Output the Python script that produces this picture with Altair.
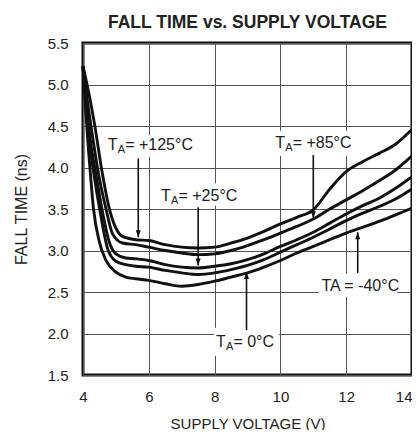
import altair as alt
import pandas as pd

# ---- data ----
X1 = [4.0, 4.2, 4.36, 4.57, 4.81, 5.0, 5.2, 5.6, 6.0, 6.5, 7.0, 7.5, 8.0, 8.5, 9.0, 9.5, 10.0, 10.5, 11.0, 11.5, 12.0, 12.5, 13.0, 13.5, 14.0]
Y1 = [5.22, 4.85, 4.5, 3.97, 3.49, 3.27, 3.17, 3.13, 3.12, 3.07, 3.04, 3.03, 3.04, 3.09, 3.15, 3.23, 3.32, 3.40, 3.49, 3.74, 3.95, 4.07, 4.17, 4.28, 4.46]

X2 = [4.0, 4.15, 4.3, 4.45, 4.7, 4.9, 5.2, 5.6, 6.0, 6.5, 7.0, 7.5, 8.0, 8.5, 9.0, 9.5, 10.0, 10.5, 11.0, 11.5, 12.0, 12.5, 13.0, 13.5, 14.0]
Y2 = [5.22, 4.75, 4.35, 3.97, 3.5, 3.2, 3.09, 3.07, 3.04, 3.0, 2.97, 2.95, 2.96, 3.0, 3.06, 3.13, 3.21, 3.29, 3.38, 3.5, 3.61, 3.72, 3.84, 3.97, 4.14]

X3 = [4.0, 4.12, 4.25, 4.38, 4.6, 4.8, 5.0, 5.3, 5.6, 6.0, 6.5, 7.0, 7.5, 8.0, 8.5, 9.0, 9.5, 10.0, 10.5, 11.0, 11.5, 12.0, 12.5, 13.0, 13.5, 14.0]
Y3 = [5.22, 4.7, 4.25, 3.95, 3.45, 3.1, 2.96, 2.91, 2.90, 2.88, 2.83, 2.80, 2.79, 2.81, 2.84, 2.89, 2.96, 3.05, 3.13, 3.22, 3.33, 3.44, 3.54, 3.63, 3.75, 3.89]

X4 = [4.0, 4.1, 4.2, 4.32, 4.55, 4.75, 5.0, 5.3, 5.6, 6.0, 6.5, 7.0, 7.5, 8.0, 8.5, 9.0, 9.5, 10.0, 10.5, 11.0, 11.5, 12.0, 12.5, 13.0, 13.5, 14.0]
Y4 = [5.22, 4.7, 4.3, 3.95, 3.4, 3.02, 2.87, 2.83, 2.81, 2.80, 2.76, 2.73, 2.71, 2.73, 2.77, 2.82, 2.89, 2.98, 3.07, 3.16, 3.26, 3.36, 3.45, 3.53, 3.62, 3.74]

X5 = [4.0, 4.08, 4.15, 4.22, 4.32, 4.5, 4.7, 5.0, 5.3, 5.6, 6.0, 6.5, 7.0, 7.5, 8.0, 8.5, 9.0, 9.5, 10.0, 10.5, 11.0, 11.5, 12.0, 12.5, 13.0, 13.5, 14.0]
Y5 = [5.22, 4.7, 4.3, 3.95, 3.5, 3.1, 2.88, 2.74, 2.68, 2.66, 2.64, 2.60, 2.57, 2.59, 2.63, 2.68, 2.73, 2.80, 2.88, 2.97, 3.05, 3.13, 3.21, 3.28, 3.35, 3.43, 3.51]

SERIES = ["curve 1", "curve 2", "curve 3", "curve 4", "curve 5"]

# annotation labels
LABEL_REST = [" = +125°C", " = +25°C", " = +85°C", " = 0°C"]
LABEL_X = [4.75, 6.37, 9.84, 8.04]
LABEL_Y = [4.21, 3.60, 4.23, 1.84]
PLAIN_LABEL = "TA = -40°C"
PLAIN_X = 11.25
PLAIN_Y = 2.51

# white boxes behind labels
BOX_X = [4.60, 6.28, 9.75, 7.98, 11.16]
BOX_X2 = [7.41, 8.76, 12.23, 9.96, 13.55]
BOX_Y = [4.39, 3.81, 4.44, 2.07, 2.72]
BOX_Y2 = [4.13, 3.54, 4.14, 1.73, 2.44]

# arrows
ARROW_X = [5.68, 7.5, 11.0, 8.97, 12.35]
ARROW_FROM = [4.11, 3.52, 4.15, 2.04, 2.73]
ARROW_TIP = [3.16, 2.82, 3.39, 2.74, 3.22]
ARROW_DIR = ["down", "down", "down", "up", "up"]

# ---- tables ----
rows = []
for name, xs, ys in zip(SERIES, [X1, X2, X3, X4, X5], [Y1, Y2, Y3, Y4, Y5]):
    for xv, yv in zip(xs, ys):
        rows.append({"series": name, "v": xv, "t": yv})
curves = pd.DataFrame(rows)

labels = pd.DataFrame({"x": LABEL_X, "y": LABEL_Y, "rest": LABEL_REST, "T": ["T"] * 4, "A": ["A"] * 4})
plain = pd.DataFrame({"x": [PLAIN_X], "y": [PLAIN_Y], "txt": [PLAIN_LABEL]})
boxes = pd.DataFrame({"x": BOX_X, "x2": BOX_X2, "y": BOX_Y, "y2": BOX_Y2})
arrows = pd.DataFrame({"x": ARROW_X, "y": ARROW_FROM, "y2": ARROW_TIP, "dir": ARROW_DIR})

FONT = "Liberation Sans"
TXT = "#222222"

xscale = alt.Scale(domain=[4, 14], nice=False, zero=False)
yscale = alt.Scale(domain=[1.5, 5.5], nice=False, zero=False)

xaxis = alt.Axis(values=[4, 6, 8, 10, 12, 14], format="d", title="SUPPLY VOLTAGE (V)",
                 grid=True, gridColor="#555555", gridWidth=1, ticks=False, domain=False,
                 labelFont=FONT, labelFontSize=15, labelColor=TXT, labelPadding=14,
                 labelAlign=alt.ExprRef("datum.value == 14 ? 'right' : 'center'"),
                 titleFont=FONT, titleFontSize=15, titleFontWeight="normal", titleColor=TXT,
                 titlePadding=12, labelFlush=False)
yaxis = alt.Axis(values=[1.5, 2.0, 2.5, 3.0, 3.5, 4.0, 4.5, 5.0, 5.5], format=".1f", title="FALL TIME (ns)",
                 grid=True, gridColor="#555555", gridWidth=1, ticks=False, domain=False,
                 labelFont=FONT, labelFontSize=15, labelColor=TXT, labelPadding=15,
                 titleFont=FONT, titleFontSize=16, titleFontWeight="normal", titleColor=TXT,
                 titlePadding=18, labelFlush=False)

lines = alt.Chart(curves).mark_line(interpolate="monotone", color="#111111", strokeWidth=2.9).encode(
    x=alt.X("v:Q", scale=xscale, axis=xaxis),
    y=alt.Y("t:Q", scale=yscale, axis=yaxis),
    detail="series:N",
)

bg = alt.Chart(boxes).mark_rect(color="white").encode(
    x="x:Q", x2="x2", y="y:Q", y2="y2"
)

rules = alt.Chart(arrows).mark_rule(color="#111111", strokeWidth=1.6).encode(
    x="x:Q", y="y:Q", y2="y2"
)

DOWN = "M-0.36,-1L0.36,-1L0,0Z"
UP = "M-0.36,1L0.36,1L0,0Z"
heads = alt.Chart(arrows).mark_point(filled=True, color="#111111", opacity=1, size=196).encode(
    x="x:Q", y="y2:Q",
    shape=alt.Shape("dir:N", scale=alt.Scale(domain=["down", "up"], range=[DOWN, UP]), legend=None),
)

t_main = alt.Chart(labels).mark_text(align="left", baseline="alphabetic", font=FONT, fontSize=16, color=TXT).encode(
    x="x:Q", y="y:Q", text="T:N"
)
t_sub = alt.Chart(labels).mark_text(align="left", baseline="alphabetic", font=FONT, fontSize=11, color=TXT, dx=10, dy=3).encode(
    x="x:Q", y="y:Q", text="A:N"
)
t_rest = alt.Chart(labels).mark_text(align="left", baseline="alphabetic", font=FONT, fontSize=16, color=TXT, dx=17.5).encode(
    x="x:Q", y="y:Q", text="rest:N"
)
t_plain = alt.Chart(plain).mark_text(align="left", baseline="alphabetic", font=FONT, fontSize=16, color=TXT).encode(
    x="x:Q", y="y:Q", text="txt:N"
)

chart = alt.layer(lines, bg, rules, heads, t_main, t_sub, t_rest, t_plain).properties(
    width=329,
    height=332,
    autosize=alt.AutoSizeParams(type="none"),
    padding={"left": 75, "top": 35, "right": 0, "bottom": 55},
    title=alt.TitleParams("FALL TIME vs. SUPPLY VOLTAGE", font=FONT,
                          fontSize=17.5, fontWeight="bold", color=TXT, anchor="middle", offset=5),
).configure_view(stroke="#111111", strokeWidth=3)

chart.save("out.html", embed_options={"renderer": "svg", "actions": False})
